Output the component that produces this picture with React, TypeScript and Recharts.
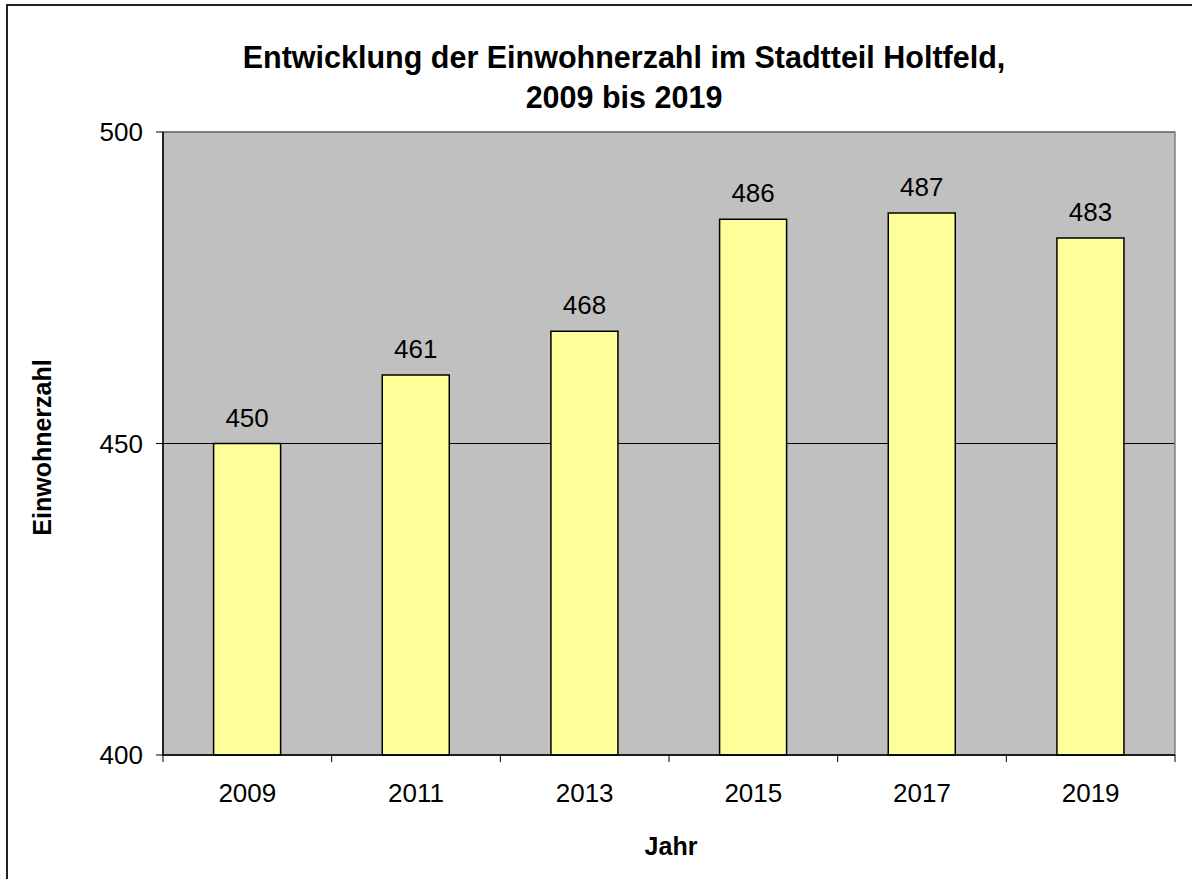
import { BarChart, Bar, XAxis, YAxis, CartesianGrid, ReferenceArea, LabelList, Label } from "recharts"

const years = ["2009", "2011", "2013", "2015", "2017", "2019"]
const einwohner = [450, 461, 468, 486, 487, 483]
const yTicks = [400, 450, 500]

const titleLines = ["Entwicklung der Einwohnerzahl im Stadtteil Holtfeld,", "2009 bis 2019"]

const W = 1192
const H = 879
const MARGIN = { top: 132, right: 17, bottom: 8, left: 0 }
const Y_AXIS_W = 163
const X_AXIS_H = H - MARGIN.top - MARGIN.bottom - 623
const FONT = "'Liberation Sans', Arial, sans-serif"

const data = years.map((jahr, i) => ({ jahr, wert: einwohner[i] }))

// half of one category band, used to put the tick marks between the bars
const plotWidth = W - MARGIN.left - MARGIN.right - Y_AXIS_W
const halfBand = plotWidth / years.length / 2

function YearTick(props: any) {
  const { x, y, payload, index } = props
  const axisY = y - 7 - 14
  return (
    <g>
      <line x1={x - halfBand} x2={x - halfBand} y1={axisY} y2={axisY + 7} stroke="#000" />
      {index === years.length - 1 && (
        <line x1={x + halfBand} x2={x + halfBand} y1={axisY} y2={axisY + 7} stroke="#000" />
      )}
      <text x={x} y={axisY + 47} textAnchor="middle" fontSize={26} fontFamily={FONT} fill="#000">
        {payload.value}
      </text>
    </g>
  )
}

export default function App() {
  return (
    <div style={{ position: "absolute", left: 0, top: 0, width: W, height: H, overflow: "hidden", background: "#fff" }}>
      <div style={{ position: "absolute", left: 0, top: 0 }}>
        <BarChart width={W} height={H} data={data} margin={MARGIN} barCategoryGap="30%">
          <CartesianGrid vertical={false} fill="#C0C0C0" fillOpacity={1} stroke="#000" />
          <XAxis
            dataKey="jahr"
            height={X_AXIS_H}
            axisLine={{ stroke: "#000", strokeWidth: 1.5 }}
            tickLine={false}
            tickSize={7}
            tickMargin={14}
            tick={<YearTick />}
            interval={0}
          >
            <Label
              content={({ viewBox }: any) => (
                <text
                  x={viewBox.x + viewBox.width / 2 + 2}
                  y={viewBox.y + 100}
                  textAnchor="middle"
                  fontSize={25}
                  fontWeight="bold"
                  fontFamily={FONT}
                  fill="#000"
                >
                  Jahr
                </text>
              )}
            />
          </XAxis>
          <YAxis
            width={Y_AXIS_W}
            domain={[400, 500]}
            ticks={yTicks}
            interval={0}
            axisLine={{ stroke: "#000", strokeWidth: 1.5 }}
            tickLine={{ stroke: "#000" }}
            tickSize={7}
            tickMargin={13}
            tick={{ fontSize: 26, fill: "#000", fontFamily: FONT }}
          >
            <Label
              content={({ viewBox }: any) => {
                const cx = 51
                const cy = viewBox.y + viewBox.height / 2 + 4
                return (
                  <text
                    x={cx}
                    y={cy}
                    transform={`rotate(-90, ${cx}, ${cy})`}
                    textAnchor="middle"
                    fontSize={25}
                    fontWeight="bold"
                    fontFamily={FONT}
                    fill="#000"
                  >
                    Einwohnerzahl
                  </text>
                )
              }}
            />
          </YAxis>
          <ReferenceArea y1={400} y2={500} fill="none" stroke="#808080" strokeWidth={1.5} />
          <Bar dataKey="wert" fill="#FFFF99" stroke="#000" strokeWidth={1.5} isAnimationActive={false}>
            <LabelList dataKey="wert" position="top" offset={17} fontSize={26} fill="#000" fontFamily={FONT} />
          </Bar>
        </BarChart>
      </div>
      <div
        style={{
          position: "absolute",
          left: 0,
          width: 1248,
          top: 0,
          textAlign: "center",
          fontFamily: FONT,
          fontWeight: "bold",
          fontSize: 30.5,
          lineHeight: "40px",
          paddingTop: 37,
        }}
      >
        {titleLines.map((line) => (
          <div key={line}>{line}</div>
        ))}
      </div>
      <div
        style={{
          position: "absolute",
          left: 6,
          top: 4,
          width: W,
          height: H,
          borderLeft: "2px solid #222",
          borderTop: "2px solid #222",
          pointerEvents: "none",
        }}
      />
    </div>
  )
}
